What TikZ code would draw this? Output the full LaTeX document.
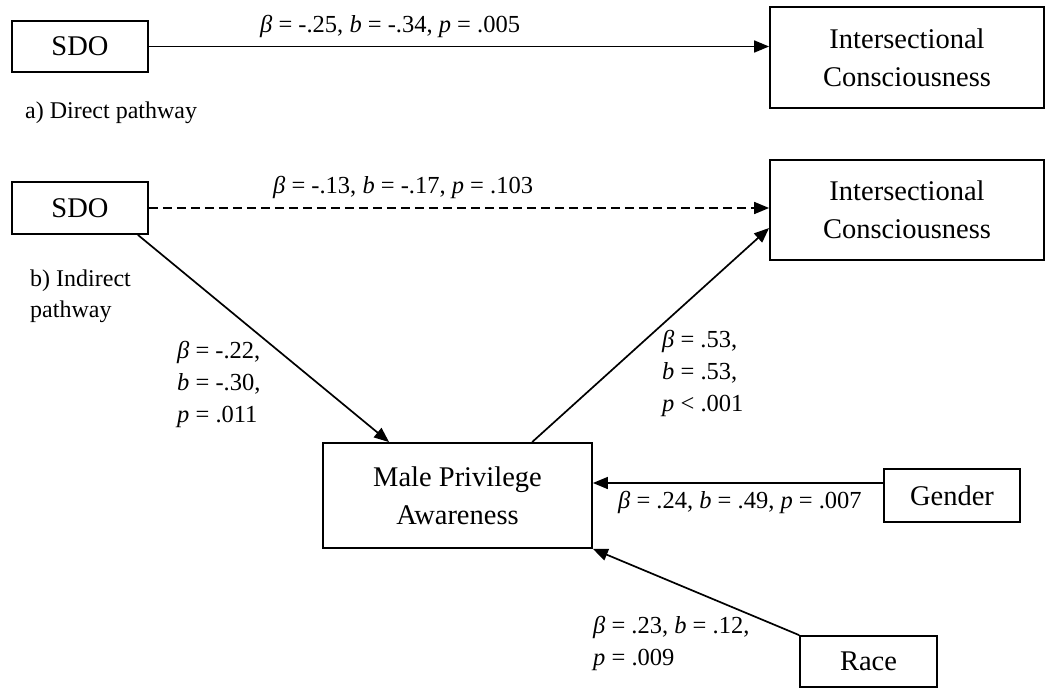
\documentclass[tikz,border=0pt]{standalone}
\usepackage{fontspec}
\setmainfont{Liberation Serif}
\usetikzlibrary{arrows.meta,calc}
\tikzset{
  boxnode/.style={draw, line width=1.8pt, inner sep=0pt, align=center,
    font=\fontsize{28.5}{38}\selectfont},
  arr/.style={line width=1.7pt, -{Triangle[length=15pt,width=12pt]}},
  lab/.style={anchor=base west, inner sep=0pt, align=left,
    font=\fontsize{24.5}{32}\selectfont},
  captext/.style={anchor=base west, inner sep=0pt, align=left,
    font=\fontsize{24}{31}\selectfont}
}
\newcommand{\bt}{\textit{β}}
\begin{document}
\begin{tikzpicture}[x=1pt,y=-1pt]
\useasboundingbox (0,0) rectangle (1047,688);
% a) direct
\node[boxnode, minimum width=136pt, minimum height=51pt] (SDOa) at (80,46.5) {SDO};
\node[boxnode, minimum width=274pt, minimum height=101pt] (ICa) at (907,57.5) {Intersectional\\Consciousness};
\draw[arr] (SDOa.east) -- (SDOa.east -| ICa.west);
\node[lab] (la) at (260,32) {\bt{} = -.25, \textit{b} = -.34, \textit{p} = .005};
\node[captext] (capa) at (25,118) {a) Direct pathway};
% b) indirect
\node[boxnode, minimum width=136pt, minimum height=52pt] (SDOb) at (80,208) {SDO};
\node[boxnode, minimum width=274pt, minimum height=100pt] (ICb) at (907,210) {Intersectional\\Consciousness};
\node[boxnode, minimum width=269pt, minimum height=105pt] (MPA) at (457.5,495.5) {Male Privilege\\Awareness};
\node[boxnode, minimum width=136pt, minimum height=53pt] (Gen) at (952,495.5) {Gender};
\node[boxnode, minimum width=137pt, minimum height=51pt] (Race) at (868.5,661.5) {Race};
\node[captext] (capb) at (30,317) {b) Indirect\\pathway};
\draw[arr, dashed, dash pattern=on 9pt off 5pt] (SDOb.east) -- (SDOb.east -| ICb.west);
\node[lab] (lb) at (273,193) {\bt{} = -.13, \textit{b} = -.17, \textit{p} = .103};
\draw[arr] ($(SDOb.south east)+(-11,0)$) -- ($(MPA.north west)+(67,0)$);
\node[lab] (l1) at (177,422) {\bt{} = -.22,\\\textit{b} = -.30,\\\textit{p} = .011};
\draw[arr] ($(MPA.north west)+(210,0)$) -- ($(ICb.west)+(0,18)$);
\node[lab] (l2) at (662,411) {\bt{} = .53,\\\textit{b} = .53,\\\textit{p} {\textless} .001};
\coordinate (gs) at ($(Gen.west)+(0,-12.5)$);
\draw[arr] (gs) -- (gs -| MPA.east);
\node[lab] (l3) at (618,508) {\bt{} = .24, \textit{b} = .49, \textit{p} = .007};
\draw[arr] (Race.north west) -- (MPA.south east);
\node[lab] (l4) at (593,665) {\bt{} = .23, \textit{b} = .12,\\\textit{p} = .009};
\end{tikzpicture}
\end{document}
